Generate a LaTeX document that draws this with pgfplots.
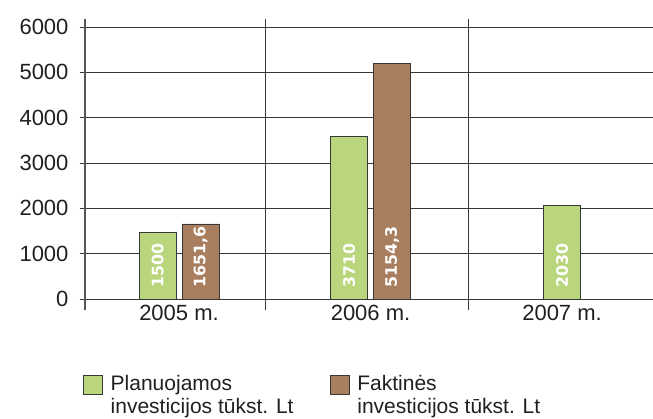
\documentclass[border=0pt]{standalone}
\usepackage{pgfplots}
\pgfplotsset{compat=1.18}
\usepackage{fontspec}
\setmainfont{Liberation Sans}
\newfontfamily\dv{DejaVu Sans}
\definecolor{barG}{RGB}{185,214,125}
\definecolor{barB}{RGB}{168,126,94}
\definecolor{gridc}{RGB}{55,55,55}
\definecolor{txt}{RGB}{35,31,32}
\pgfplotsset{sqlegend/.style={legend image code/.code={\draw[##1, line width=0.8pt] (0pt,0.5pt) rectangle (19pt,19.5pt); \path (0pt,-19.5pt) (25pt,0pt);}}}
\begin{document}
\begin{tikzpicture}
\begin{axis}[
  scale only axis,
  width=568pt, height=291pt,
  xmin=-0.4909, xmax=2.475,
  ymin=-243, ymax=6176,
  axis y line*=left,
  axis x line*=bottom,
  x axis line style={draw=none},
  y axis line style={draw=gridc!85, line width=1.2pt},
  xtick={-0.4909,0.449,1.509},
  xticklabels={},
  xmajorgrids,
  xtick style={draw=none},
  extra x ticks={0,1,2},
  extra x tick labels={2005 m.,2006 m.,2007 m.},
  extra x tick style={xmajorgrids=false, xtick style={draw=none}},
  ytick={0,1000,...,6000},
  ymajorgrids,
  grid style={draw=gridc, line width=0.9pt},
  tick align=outside,
  major tick length=5pt,
  ytick style={draw=gridc, line width=0.9pt},
  yticklabel style={font=\fontsize{22}{26}\selectfont, text=txt, xshift=-8pt},
  xticklabel style={font=\fontsize{22}{26}\selectfont, text=txt, yshift=13pt},
  scaled y ticks=false,
  y tick label style={/pgf/number format/.cd, fixed, 1000 sep={}},
  /pgf/number format/assume math mode=true,
  legend columns=2,
  legend cell align=left,
  legend style={at={(axis description cs:-0.004,-0.2165)}, anchor=north west,
    draw=none, fill=none, inner sep=0pt,
    font=\fontsize{21}{23}\selectfont, text=txt,
    cells={align=left},
    /tikz/every even column/.append style={column sep=34pt}},
]
\addplot[ybar, sqlegend, bar width=37pt, bar shift=-21.5pt, fill=barG, draw=gridc, line width=0.8pt] coordinates {(0,1460) (1,3595)};
\addlegendentry{Planuojamos\\investicijos tūkst. Lt}
\addplot[ybar, sqlegend, bar width=37pt, bar shift=21.5pt, fill=barB, draw=gridc, line width=0.8pt] coordinates {(0,1655) (1,5205)};
\addlegendentry{Faktinės\\investicijos tūkst. Lt}
\addplot[ybar, forget plot, bar width=37pt, bar shift=0pt, fill=barG, draw=gridc, line width=0.8pt] coordinates {(2,2075)};
\addplot[forget plot, draw=none, mark=none, nodes near coords, point meta=explicit symbolic,
  every node near coord/.append style={rotate=90, anchor=west, inner sep=0pt, text=white, font=\dv\bfseries\fontsize{15.8}{18}\selectfont}]
  coordinates {(-0.1123,250)[1500] (0.1123,250)[1651,6] (0.8877,250)[3710] (1.1123,250)[5154,3] (2,250)[2030]};
\end{axis}
\pgfresetboundingbox
\path (-85pt,-108pt) rectangle (568pt,310pt);
\end{tikzpicture}
\end{document}
